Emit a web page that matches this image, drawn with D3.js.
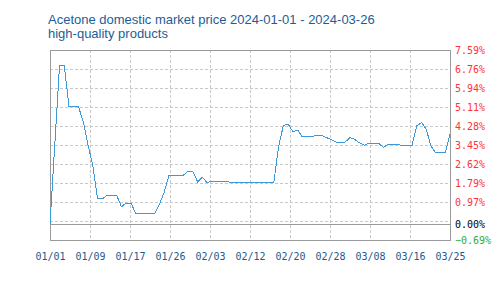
<!DOCTYPE html>
<html>
<head>
<meta charset="utf-8">
<script src="https://cdn.jsdelivr.net/npm/d3@7"></script>
<style>
  body { margin: 0; background: #fff; }
  .axis text { font-family: "DejaVu Sans Mono", monospace; font-size: 10px; }
  .title { font-family: "Liberation Sans", Arial, sans-serif; font-size: 13px; fill: #1d5d95; }
</style>
</head>
<body>
<div id="chart"></div>
<script>
// percent change vs 2024-01-01, one value per day
var values = [
  0, 3.45, 6.90, 6.90, 5.11, 5.11, 5.11, 4.45, 3.45, 2.53,
  1.10, 1.10, 1.26, 1.26, 1.26, 0.76, 0.92, 0.92, 0.47, 0.47,
  0.47, 0.47, 0.47, 0.88, 1.40, 2.14, 2.14, 2.14, 2.14, 2.30,
  2.30, 1.84, 2.04, 1.81, 1.88, 1.88, 1.88, 1.88, 1.81, 1.81,
  1.81, 1.81, 1.81, 1.81, 1.81, 1.81, 1.81, 1.81, 3.38, 4.29,
  4.37, 4.03, 4.10, 3.80, 3.80, 3.80, 3.88, 3.88, 3.78, 3.69,
  3.58, 3.58, 3.58, 3.78, 3.69, 3.54, 3.44, 3.53, 3.53, 3.53,
  3.35, 3.48, 3.48, 3.48, 3.41, 3.41, 3.41, 4.28, 4.43, 4.15,
  3.41, 3.11, 3.11, 3.11, 3.93
]
var xLabels = ['01/01', '01/09', '01/17', '01/26', '02/03', '02/12', '02/20', '02/28', '03/08', '03/16', '03/25']
var yLabels = [7.59, 6.76, 5.94, 5.11, 4.28, 3.45, 2.62, 1.79, 0.97, 0, -0.69]
var yMin = -0.69, yMax = 7.59
var titleLines = ['Acetone domestic market price 2024-01-01 - 2024-03-26', 'high-quality products']

var margin = { top: 50, right: 50, bottom: 60, left: 50 }
var W = 500, H = 300
var w = W - margin.left - margin.right
var h = H - margin.top - margin.bottom

var svg = d3.select('#chart').append('svg')
  .attr('width', W)
  .attr('height', H)

svg.selectAll('.title')
  .data(titleLines)
  .enter().append('text')
  .attr('class', 'title')
  .attr('x', 48)
  .attr('y', function(d, i) { return 23.5 + i * 14 })
  .text(function(d) { return d })

var g = svg.append('g')
  .attr('transform', 'translate(' + margin.left + ',' + margin.top + ')')

var n = values.length - 1
var x = d3.scaleLinear().domain([0, n]).range([0, w])
var y = d3.scaleLinear().domain([yMin, yMax]).range([h, 0])

var xGrid = d3.range(xLabels.length).map(function(k) { return k * n / (xLabels.length - 1) })
var yGrid = d3.range(11).map(function(k) { return yMin + k * (yMax - yMin) / 10 })

// grid
g.append('g')
  .selectAll('line')
  .data(yGrid.slice(1, -1))
  .enter().append('line')
  .attr('x1', 0).attr('x2', w)
  .attr('y1', function(d) { return Math.round(y(d)) + 0.5 })
  .attr('y2', function(d) { return Math.round(y(d)) + 0.5 })
  .attr('stroke', '#c8c8c8')
  .attr('stroke-dasharray', '3,2')
  .attr('shape-rendering', 'crispEdges')

g.append('g')
  .selectAll('line')
  .data(xGrid.slice(1, -1))
  .enter().append('line')
  .attr('y1', 0).attr('y2', h)
  .attr('x1', function(d) { return Math.round(x(d)) + 0.5 })
  .attr('x2', function(d) { return Math.round(x(d)) + 0.5 })
  .attr('stroke', '#c8c8c8')
  .attr('stroke-dasharray', '3,2')
  .attr('shape-rendering', 'crispEdges')

// zero line
g.append('line')
  .attr('x1', 0).attr('x2', w)
  .attr('y1', Math.round(y(0)) + 0.5).attr('y2', Math.round(y(0)) + 0.5)
  .attr('stroke', '#9a9a9a')
  .attr('shape-rendering', 'crispEdges')

// frame
g.append('rect')
  .attr('x', 0.5).attr('y', 0.5)
  .attr('width', w).attr('height', h)
  .attr('fill', 'none')
  .attr('stroke', '#9a9a9a')
  .attr('shape-rendering', 'crispEdges')

var line = d3.line()
  .x(function(d, i) { return x(i) })
  .y(function(d) { return y(d) })

g.append('path')
  .datum(values)
  .attr('d', line)
  .attr('fill', 'none')
  .attr('stroke', '#3a9ad9')
  .attr('stroke-width', 1)
  .attr('shape-rendering', 'crispEdges')

// axes
var xAxis = g.append('g')
  .attr('class', 'axis')
  .attr('transform', 'translate(0,' + h + ')')
  .call(d3.axisBottom(x)
    .tickValues(xGrid)
    .tickSize(0)
    .tickPadding(13)
    .tickFormat(function(d, i) { return xLabels[i] }))
xAxis.select('.domain').remove()
xAxis.selectAll('text').attr('fill', '#1b5a8c')

var yAxis = g.append('g')
  .attr('class', 'axis')
  .attr('transform', 'translate(' + w + ',0)')
  .call(d3.axisRight(y)
    .tickValues(yLabels)
    .tickSize(0)
    .tickPadding(5)
    .tickFormat(function(d) { return d3.format('.2f')(d) + '%' }))
yAxis.select('.domain').remove()
yAxis.selectAll('text')
  .attr('fill', function(d) { return d > 0 ? '#ff3333' : (d < 0 ? '#33aa33' : '#000') })
</script>
</body>
</html>
